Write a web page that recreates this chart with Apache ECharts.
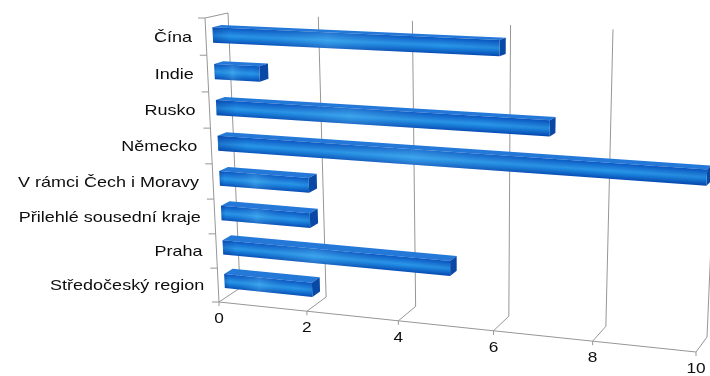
<!DOCTYPE html>
<html><head><meta charset="utf-8">
<script src="https://cdn.jsdelivr.net/npm/echarts@6/dist/echarts.min.js"></script>
<style>html,body{margin:0;padding:0;background:#fff}#c{width:710px;height:376px}</style>
</head><body><div id="c"></div>
<script>
// ---- data ----
const categories = ['Čína','Indie','Rusko','Německo','V rámci Čech i Moravy','Přilehlé sousední kraje','Praha','Středočeský region'];
const values = [6,1,7,10,2,2,5,2];
const xTicks = [0,2,4,6,8,10];
const xMin = 0, xMax = 10;

// ---- 3D view (layout only): corners of front and back planes ----
const FRONT = [[205,18],[710,39],[696,352],[219,302]];
const BACK  = [[228,13],[720,34],[707,337],[240,288]];
function makeH(q){
  const [p0,p1,p2,p3]=q;
  const dx1=p1[0]-p2[0], dx2=p3[0]-p2[0], dx3=p0[0]-p1[0]+p2[0]-p3[0];
  const dy1=p1[1]-p2[1], dy2=p3[1]-p2[1], dy3=p0[1]-p1[1]+p2[1]-p3[1];
  const den=dx1*dy2-dx2*dy1;
  const g=(dx3*dy2-dx2*dy3)/den, h=(dx1*dy3-dx3*dy1)/den;
  const a=p1[0]-p0[0]+g*p1[0], b=p3[0]-p0[0]+h*p3[0], c=p0[0];
  const d=p1[1]-p0[1]+g*p1[1], e=p3[1]-p0[1]+h*p3[1], f=p0[1];
  return (u,w)=>{const z=g*u+h*w+1;return [(a*u+b*w+c)/z,(d*u+e*w+f)/z];};
}
const HF=makeH(FRONT), HB=makeH(BACK);
function P(u,w,d){const a=HF(u,w),b=HB(u,w);return [a[0]+(b[0]-a[0])*d,a[1]+(b[1]-a[1])*d];}
const nx=(cs,px)=>(px-cs.x)/cs.width;
const ny=(cs,py)=>(py-cs.y)/cs.height;
const LINE={stroke:'#969696',lineWidth:1};
const FONT='15px "Liberation Sans", Arial, sans-serif';
function line(a,b,st){return {type:'line',shape:{x1:a[0],y1:a[1],x2:b[0],y2:b[1]},style:Object.assign({},st||LINE),silent:true};}
function text(pt,str,align){return {type:'text',x:pt[0],y:pt[1],scaleX:1.2,scaleY:1,
  style:{text:str,x:0,y:0,font:FONT,fill:'#0d0d0d',textAlign:align,align:align,textVerticalAlign:'middle',verticalAlign:'middle'}};}

const chart=echarts.init(document.getElementById('c'),null,{renderer:'canvas'});
chart.setOption({
  animation:false,
  grid:{left:100,top:40,width:400,height:240,show:false},
  xAxis:{type:'value',min:xMin,max:xMax,show:false},
  yAxis:{type:'category',data:categories,inverse:true,show:false},
  series:[
    { // value gridlines, floor lines, ticks and labels
      type:'custom',z:1,data:xTicks.map(v=>[v,0]),
      renderItem(params,api){
        const cs=params.coordSys;const v=api.value(0);
        const u=nx(cs,api.coord([v,0])[0]);
        const f=P(u,1,0);
        return {type:'group',children:[
          line(P(u,0,1),P(u,1,1)),
          line(f,P(u,1,1)),
          line(f,[f[0],f[1]+4]),
          Object.assign(text([f[0],f[1]+17],String(v),'center'),{scaleX:1.15})
        ]};
      }
    },
    { // frame: front baseline, left axis, left top edge
      type:'custom',z:1,data:[[xMin,0]],
      renderItem(params,api){
        const cs=params.coordSys;
        const u0=nx(cs,api.coord([xMin,0])[0]), u1=nx(cs,api.coord([xMax,0])[0]);
        return {type:'group',children:[
          line(P(u0,1,0),P(u1,1,0)),
          line(P(u0,0,0),P(u0,1,0)),
          line(P(u0,0,0),P(u0,0,1))
        ]};
      }
    },
    { // category ticks and labels
      type:'custom',z:3,data:categories.map((c,i)=>[xMin,i]),
      renderItem(params,api){
        const cs=params.coordSys;const i=api.value(1);
        const pt=api.coord([xMin,i]);const band=api.size([0,1])[1];
        const u0=nx(cs,pt[0]);const wc=ny(cs,pt[1]);const hb=band/cs.height/2;
        const ch=[];
        const t=P(u0,wc-hb,0);ch.push(line(t,[t[0]-7,t[1]]));
        if(i===categories.length-1){const b=P(u0,wc+hb,0);ch.push(line(b,[b[0]-7,b[1]]));}
        const lp=P(u0,wc,0);
        ch.push(text([lp[0]-14,lp[1]+1],categories[i],'right'));
        return {type:'group',children:ch};
      }
    },
    { // 3D bars
      type:'custom',z:2,data:values.map((v,i)=>[v,i]),
      renderItem(params,api){
        const cs=params.coordSys;const i=api.value(1);
        const s=api.coord([xMin,i]), e=api.coord([api.value(0),i]);
        const band=api.size([0,1])[1]/cs.height;
        const u0=nx(cs,s[0]), u1=nx(cs,e[0]), wc=ny(cs,s[1]);
        const wt=wc-0.21*band, wb=wc+0.21*band, d0=0.3, d1=0.7;
        const A=P(u0,wt,d0),B=P(u1,wt,d0),C=P(u1,wb,d0),D=P(u0,wb,d0);
        const A2=P(u0,wt,d1),B2=P(u1,wt,d1),C2=P(u1,wb,d1);
        const mt=[(A[0]+B[0])/2,(A[1]+B[1])/2], mb=[(D[0]+C[0])/2,(D[1]+C[1])/2];
        let tx=B[0]-A[0],ty=B[1]-A[1];const L=Math.hypot(tx,ty)||1;tx/=L;ty/=L;
        const n=[-ty,tx];const dd=(mb[0]-mt[0])*n[0]+(mb[1]-mt[1])*n[1];
        const grad={type:'linear',global:true,x:mt[0],y:mt[1],x2:mt[0]+n[0]*dd,y2:mt[1]+n[1]*dd,
          colorStops:[{offset:0,color:'#0a58c4'},{offset:0.5,color:'#2a96e8'},{offset:0.62,color:'#1e8ae2'},{offset:1,color:'#0850b8'}]};
        const hgrad={type:'linear',x:0,y:0,x2:1,y2:0,colorStops:[
          {offset:0,color:'rgba(0,40,130,0.30)'},{offset:0.06,color:'rgba(0,40,130,0)'},
          {offset:0.4,color:'rgba(130,220,255,0.22)'},{offset:0.8,color:'rgba(0,40,130,0)'},{offset:1,color:'rgba(0,40,130,0.12)'}]};
        const poly=(pts,fill)=>({type:'polygon',shape:{points:pts},style:{fill:fill}});
        return {type:'group',children:[
          poly([A,B,B2,A2],'#2479d8'),
          poly([B,B2,C2,C],'#0a48a6'),
          poly([A,B,C,D],grad),
          poly([A,B,C,D],hgrad)
        ]};
      }
    }
  ]
});
</script></body></html>
